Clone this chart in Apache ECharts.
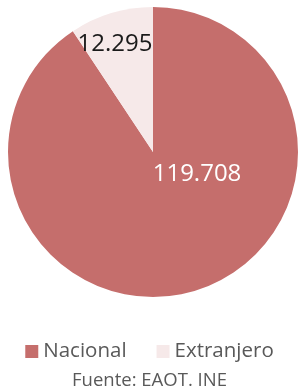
<!DOCTYPE html>
<html>
<head>
<meta charset="utf-8">
<script src="https://cdn.jsdelivr.net/npm/echarts@6/dist/echarts.min.js"></script>
<style>
  html, body { margin: 0; padding: 0; background: #fff; }
  #main { width: 299px; height: 392px; }
</style>
</head>
<body>
<div id="main"></div>
<script>
var categories = ['Nacional', 'Extranjero'];
var values = [119708, 12295];
var labels = ['119.708', '12.295'];
var source = 'Fuente: EAOT. INE';

var colors = ['#C56E6C', '#F6E9E9'];
var labelColors = ['#ffffff', '#1a1a1a'];
var labelPos = [[197, 174], [115, 44]];

var chart = echarts.init(document.getElementById('main'));
chart.setOption({
  animation: false,
  color: colors,
  textStyle: { fontFamily: 'Open Sans' },
  legend: {
    data: categories,
    top: 336,
    left: 'center',
    itemWidth: 13,
    itemHeight: 13,
    itemGap: 30,
    icon: 'rect',
    textStyle: { fontSize: 20.5, color: '#595959', fontFamily: 'Open Sans' }
  },
  graphic: [{
    type: 'text',
    left: 'center',
    top: 371,
    style: { text: source, fontSize: 18.5, fill: '#595959', fontFamily: 'Open Sans' }
  }],
  series: [{
    type: 'pie',
    center: [153, 152],
    radius: 145,
    startAngle: 90,
    clockwise: true,
    silent: true,
    data: categories.map(function (c, i) {
      return {
        name: c,
        value: values[i],
        label: { color: labelColors[i] }
      };
    }),
    label: {
      show: true,
      position: 'inside',
      fontSize: 24,
      fontFamily: 'Open Sans',
      formatter: function (p) { return labels[p.dataIndex]; }
    },
    labelLine: { show: false },
    labelLayout: function (p) {
      return { x: labelPos[p.dataIndex][0], y: labelPos[p.dataIndex][1], align: 'center', verticalAlign: 'middle' };
    },
    itemStyle: { borderColor: '#ffffff', borderWidth: 0 }
  }]
});
</script>
</body>
</html>
